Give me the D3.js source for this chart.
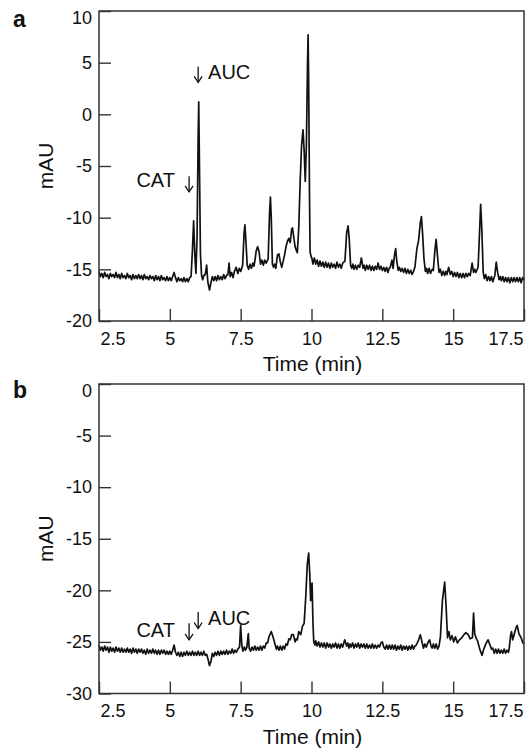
<!DOCTYPE html>
<html>
<head>
<meta charset="utf-8">
<script src="https://cdn.jsdelivr.net/npm/d3@7"></script>
<style>
  html, body { margin: 0; padding: 0; background: #fff; }
  svg { display: block; }
  text { font-family: "Liberation Sans", Arial, Helvetica, sans-serif; fill: #111; }
</style>
</head>
<body>
<svg id="chart" width="526" height="752"></svg>
<script>
// ---- data (time in min, absorbance in mAU) ----
const xTicks = [2.5, 5, 7.5, 10, 12.5, 15, 17.5];
const yTicksA = [-20, -15, -10, -5, 0, 5, 10];
const yTicksB = [-30, -25, -20, -15, -10, -5, 0];
const panelLabels = ["a", "b"];
const xTitle = "Time (min)";
const yTitle = "mAU";

const traceA = [
[2.5,-15.2],[2.55,-15.7],[2.6,-15.4],[2.65,-15.8],[2.7,-15.3],[2.75,-15.7],[2.8,-15.5],[2.85,-15.9],[2.9,-15.4],[2.95,-15.7],
[3.0,-15.5],[3.05,-15.8],[3.1,-15.3],[3.15,-15.8],[3.2,-15.5],[3.25,-15.9],[3.3,-15.4],[3.35,-15.8],[3.4,-15.6],[3.45,-15.9],
[3.5,-15.4],[3.55,-15.8],[3.6,-15.6],[3.65,-16.0],[3.7,-15.5],[3.75,-15.9],[3.8,-15.6],[3.85,-15.9],[3.9,-15.5],[3.95,-15.9],
[4.0,-15.6],[4.05,-16.0],[4.1,-15.5],[4.15,-15.9],[4.2,-15.7],[4.25,-16.0],[4.3,-15.6],[4.35,-15.9],[4.4,-15.7],[4.45,-16.1],
[4.5,-15.6],[4.55,-16.0],[4.6,-15.7],[4.65,-16.1],[4.7,-15.6],[4.75,-16.0],[4.8,-15.8],[4.85,-16.1],[4.9,-15.7],[4.95,-16.1],
[5.0,-15.8],[5.05,-16.1],[5.1,-15.7],[5.15,-15.3],[5.2,-15.8],[5.25,-16.2],[5.3,-15.8],[5.35,-16.1],[5.4,-15.9],[5.45,-16.2],
[5.5,-15.8],[5.55,-16.2],[5.6,-15.9],[5.65,-16.2],[5.7,-15.8],[5.75,-15.7],[5.8,-13.0],[5.84,-10.3],[5.88,-13.5],[5.92,-15.4],
[5.96,-12.0],[6.0,-2.0],[6.02,1.2],[6.05,-6.0],[6.08,-13.5],[6.12,-15.6],[6.16,-16.0],[6.2,-15.6],[6.25,-15.5],[6.3,-14.6],
[6.34,-16.2],[6.4,-17.0],[6.45,-16.3],[6.5,-15.7],[6.55,-16.1],[6.6,-15.7],[6.65,-16.1],[6.7,-15.6],[6.75,-16.0],[6.8,-15.7],
[6.85,-16.0],[6.9,-15.5],[6.95,-15.9],[7.0,-15.6],[7.05,-15.5],[7.09,-14.4],[7.13,-15.7],[7.18,-15.3],[7.23,-15.8],[7.28,-15.2],
[7.34,-14.8],[7.4,-15.4],[7.45,-14.9],[7.5,-15.2],[7.57,-14.6],[7.62,-11.5],[7.65,-10.7],[7.69,-12.5],[7.73,-14.6],[7.78,-15.0],
[7.83,-14.5],[7.88,-14.9],[7.93,-14.4],[7.97,-14.7],[8.0,-14.2],[8.05,-13.2],[8.1,-12.8],[8.15,-13.3],[8.2,-14.5],[8.25,-14.1],
[8.3,-14.6],[8.35,-14.1],[8.4,-14.4],[8.47,-14.0],[8.52,-9.5],[8.55,-8.0],[8.58,-10.0],[8.62,-14.5],[8.66,-14.8],[8.7,-14.5],
[8.74,-14.9],[8.8,-13.6],[8.85,-13.5],[8.9,-14.3],[8.95,-14.8],[9.0,-14.2],[9.05,-13.6],[9.1,-12.8],[9.15,-12.3],[9.2,-12.0],
[9.25,-12.4],[9.3,-11.1],[9.33,-11.0],[9.37,-11.8],[9.42,-12.8],[9.47,-13.2],[9.5,-13.4],[9.55,-11.0],[9.6,-6.5],[9.65,-3.0],
[9.7,-1.5],[9.74,-3.5],[9.78,-6.5],[9.82,-3.0],[9.86,5.0],[9.88,7.7],[9.9,3.0],[9.93,-8.0],[9.95,-13.3],[9.98,-13.7],
[10.02,-14.0],[10.05,-14.5],[10.1,-13.9],[10.15,-14.5],[10.2,-14.1],[10.25,-14.7],[10.3,-14.2],[10.35,-14.7],[10.4,-14.3],[10.45,-14.8],
[10.5,-14.3],[10.55,-14.8],[10.6,-14.4],[10.65,-14.9],[10.7,-14.4],[10.75,-14.8],[10.8,-14.5],[10.85,-14.9],[10.9,-14.3],[10.95,-14.8],
[11.0,-14.5],[11.05,-14.9],[11.1,-14.4],[11.18,-14.2],[11.24,-11.5],[11.29,-10.8],[11.33,-12.0],[11.38,-14.6],[11.42,-14.9],[11.46,-14.5],
[11.5,-15.0],[11.55,-14.6],[11.6,-15.0],[11.65,-14.6],[11.7,-14.8],[11.76,-13.9],[11.82,-14.9],[11.86,-14.6],[11.9,-15.1],[11.95,-14.6],
[12.0,-15.0],[12.05,-14.6],[12.1,-15.1],[12.15,-14.7],[12.2,-15.1],[12.25,-14.7],[12.3,-15.0],[12.35,-14.4],[12.4,-15.0],[12.45,-14.7],
[12.5,-15.1],[12.55,-14.8],[12.6,-15.2],[12.65,-14.8],[12.7,-15.3],[12.74,-14.9],[12.78,-14.8],[12.84,-14.1],[12.88,-14.9],[12.93,-13.6],
[12.97,-13.0],[13.01,-14.2],[13.06,-15.1],[13.1,-14.8],[13.15,-15.2],[13.2,-14.9],[13.25,-15.3],[13.3,-14.9],[13.35,-15.4],[13.4,-15.0],
[13.45,-15.4],[13.5,-15.1],[13.55,-15.5],[13.6,-15.2],[13.65,-14.8],[13.72,-13.0],[13.78,-12.2],[13.84,-10.5],[13.88,-9.9],[13.92,-11.5],
[13.97,-14.0],[14.02,-15.2],[14.06,-14.9],[14.1,-15.4],[14.15,-14.9],[14.2,-15.4],[14.26,-15.0],[14.3,-15.1],[14.36,-13.0],[14.4,-12.1],
[14.44,-13.5],[14.5,-15.3],[14.55,-15.0],[14.6,-15.6],[14.65,-15.2],[14.7,-15.6],[14.74,-15.2],[14.78,-15.5],[14.84,-14.8],[14.9,-15.5],
[14.95,-15.2],[15.0,-15.7],[15.05,-15.3],[15.1,-15.7],[15.15,-15.3],[15.2,-15.8],[15.25,-15.4],[15.3,-15.8],[15.35,-15.4],[15.4,-15.8],
[15.45,-15.4],[15.5,-15.7],[15.55,-15.4],[15.6,-15.6],[15.67,-14.4],[15.72,-15.3],[15.76,-15.0],[15.8,-15.3],[15.88,-14.8],[15.93,-11.5],
[15.97,-8.7],[16.01,-11.0],[16.06,-15.3],[16.1,-15.9],[16.15,-15.5],[16.2,-16.1],[16.25,-15.7],[16.3,-16.1],[16.35,-15.7],[16.4,-16.2],
[16.47,-15.6],[16.52,-14.3],[16.57,-15.3],[16.62,-16.0],[16.66,-15.7],[16.7,-16.1],[16.75,-15.7],[16.8,-16.2],[16.85,-15.8],[16.9,-16.2],
[16.95,-15.8],[17.0,-16.3],[17.05,-15.8],[17.1,-16.2],[17.15,-15.8],[17.2,-16.2],[17.25,-15.8],[17.3,-16.2],[17.35,-15.8],[17.4,-16.3],
[17.45,-15.8],[17.5,-16.0]
];

const traceB = [
[2.5,-25.3],[2.55,-25.8],[2.6,-25.5],[2.65,-25.9],[2.7,-25.4],[2.75,-25.8],[2.8,-25.5],[2.85,-26.0],[2.9,-25.5],[2.95,-25.9],
[3.0,-25.6],[3.05,-26.0],[3.1,-25.5],[3.15,-25.9],[3.2,-25.6],[3.25,-26.0],[3.3,-25.6],[3.35,-26.0],[3.4,-25.7],[3.45,-26.0],
[3.5,-25.6],[3.55,-26.0],[3.6,-25.7],[3.65,-26.1],[3.7,-25.6],[3.75,-26.0],[3.8,-25.7],[3.85,-26.1],[3.9,-25.7],[3.95,-26.0],
[4.0,-25.7],[4.05,-26.1],[4.1,-25.8],[4.15,-26.2],[4.2,-25.7],[4.25,-26.1],[4.3,-25.8],[4.35,-26.1],[4.4,-25.7],[4.45,-26.1],
[4.5,-25.8],[4.55,-26.2],[4.6,-25.8],[4.65,-26.2],[4.7,-25.8],[4.75,-26.1],[4.8,-25.8],[4.85,-26.2],[4.9,-25.9],[4.95,-26.2],
[5.0,-25.9],[5.05,-26.2],[5.1,-25.8],[5.15,-25.3],[5.2,-26.0],[5.25,-26.3],[5.3,-26.0],[5.35,-26.4],[5.4,-26.0],[5.45,-26.4],
[5.5,-26.0],[5.55,-26.3],[5.6,-25.9],[5.65,-26.3],[5.7,-26.0],[5.75,-26.3],[5.8,-25.9],[5.85,-26.3],[5.9,-26.0],[5.95,-26.3],
[6.0,-25.9],[6.05,-26.3],[6.1,-26.0],[6.15,-26.3],[6.2,-25.9],[6.25,-26.3],[6.3,-26.2],[6.36,-26.8],[6.4,-27.3],[6.45,-26.9],
[6.5,-26.1],[6.55,-26.4],[6.6,-26.0],[6.65,-26.3],[6.7,-25.9],[6.75,-26.3],[6.8,-25.9],[6.85,-26.2],[6.9,-25.9],[6.95,-26.2],
[7.0,-25.8],[7.05,-26.2],[7.1,-25.9],[7.15,-26.1],[7.2,-25.7],[7.25,-26.1],[7.3,-25.8],[7.35,-26.0],[7.4,-25.7],[7.46,-25.5],
[7.5,-23.4],[7.54,-25.3],[7.58,-25.9],[7.63,-25.5],[7.67,-25.8],[7.72,-25.5],[7.77,-24.2],[7.8,-25.6],[7.85,-25.9],[7.9,-25.5],
[7.95,-25.8],[8.0,-25.4],[8.05,-25.8],[8.1,-25.5],[8.15,-25.8],[8.2,-25.4],[8.25,-25.8],[8.3,-25.4],[8.35,-25.6],[8.4,-25.1],
[8.45,-25.1],[8.5,-24.5],[8.58,-24.0],[8.65,-24.6],[8.72,-25.3],[8.76,-25.7],[8.8,-25.4],[8.85,-25.8],[8.9,-25.4],[8.95,-25.8],
[9.0,-25.4],[9.05,-25.7],[9.1,-25.2],[9.15,-25.3],[9.2,-24.7],[9.25,-24.8],[9.3,-24.3],[9.36,-24.3],[9.42,-25.0],[9.46,-24.7],
[9.5,-24.8],[9.55,-24.0],[9.62,-24.3],[9.68,-23.5],[9.74,-23.2],[9.8,-20.5],[9.85,-17.5],[9.9,-16.4],[9.94,-18.5],[9.97,-21.0],
[10.0,-19.5],[10.02,-19.3],[10.05,-23.0],[10.08,-25.0],[10.12,-25.3],[10.15,-24.9],[10.2,-25.4],[10.25,-25.0],[10.3,-25.5],[10.35,-25.1],
[10.4,-25.5],[10.45,-25.1],[10.5,-25.6],[10.55,-25.1],[10.6,-25.5],[10.65,-25.2],[10.7,-25.6],[10.75,-25.2],[10.8,-25.5],[10.85,-25.1],
[10.9,-25.6],[10.95,-25.2],[11.0,-25.6],[11.05,-25.2],[11.1,-25.5],[11.17,-24.8],[11.24,-25.4],[11.28,-25.1],[11.32,-25.6],[11.36,-25.2],
[11.4,-25.5],[11.45,-25.1],[11.5,-25.6],[11.55,-25.2],[11.6,-25.5],[11.65,-25.1],[11.7,-25.6],[11.75,-25.2],[11.8,-25.5],[11.85,-25.2],
[11.9,-25.6],[11.95,-25.2],[12.0,-25.6],[12.05,-25.3],[12.1,-25.6],[12.15,-25.2],[12.2,-25.6],[12.25,-25.3],[12.3,-25.6],[12.35,-25.3],
[12.4,-25.5],[12.45,-25.1],[12.5,-25.0],[12.55,-25.5],[12.6,-25.7],[12.65,-25.3],[12.7,-25.7],[12.75,-25.3],[12.8,-25.7],[12.85,-25.3],
[12.9,-25.7],[12.95,-25.3],[13.0,-25.8],[13.05,-25.4],[13.1,-25.7],[13.15,-25.3],[13.2,-25.8],[13.25,-25.4],[13.3,-25.7],[13.35,-25.4],
[13.4,-25.8],[13.45,-25.4],[13.5,-25.7],[13.55,-25.3],[13.6,-25.7],[13.65,-25.4],[13.7,-25.3],[13.78,-24.8],[13.84,-24.3],[13.9,-25.0],
[13.95,-25.6],[14.0,-25.2],[14.05,-25.5],[14.12,-25.0],[14.17,-24.8],[14.22,-25.4],[14.26,-25.6],[14.3,-25.2],[14.35,-25.6],[14.4,-25.2],
[14.45,-25.7],[14.5,-25.4],[14.55,-24.5],[14.62,-21.0],[14.7,-19.2],[14.75,-21.5],[14.8,-24.6],[14.85,-24.0],[14.9,-24.8],[14.96,-24.4],
[15.02,-25.0],[15.08,-24.5],[15.15,-25.1],[15.22,-24.8],[15.3,-24.6],[15.38,-24.3],[15.45,-24.1],[15.53,-24.3],[15.6,-24.7],[15.68,-24.6],
[15.72,-22.2],[15.76,-24.2],[15.82,-24.7],[15.86,-24.9],[15.9,-25.3],[15.95,-25.8],[16.02,-26.3],[16.08,-25.7],[16.15,-25.2],[16.23,-24.8],
[16.3,-25.3],[16.35,-25.7],[16.4,-25.6],[16.45,-26.1],[16.5,-25.7],[16.55,-26.1],[16.6,-25.7],[16.65,-26.1],[16.7,-25.8],[16.75,-26.1],
[16.8,-25.7],[16.85,-26.1],[16.9,-25.8],[16.95,-26.0],[16.98,-25.6],[17.03,-24.3],[17.06,-24.0],[17.1,-24.8],[17.16,-24.2],[17.22,-23.6],
[17.26,-23.4],[17.32,-24.2],[17.4,-24.6],[17.46,-25.1],[17.5,-25.2]
];

// annotation labels and arrows, in data coordinates (min, mAU)
const labelsA = [
  { text: "AUC", t: 6.35, v: 3.45, anchor: "start" },
  { text: "CAT", t: 5.18, v: -7.05, anchor: "end" }
];
const arrowsA = [ { t: 6.0, vTop: 4.6, vTip: 3.1 }, { t: 5.68, vTop: -6.0, vTip: -7.5 } ];
const labelsB = [
  { text: "AUC", t: 6.35, v: -23.35, anchor: "start" },
  { text: "CAT", t: 5.18, v: -24.5, anchor: "end" }
];
const arrowsB = [ { t: 6.0, vTop: -22.1, vTip: -23.7 }, { t: 5.68, vTop: -23.2, vTip: -24.8 } ];

// ---- layout ----
const svg = d3.select("#chart");
const left = 99, right = 524;

const panels = [
  { data: traceA, yDomain: [-20, 10], yTicks: yTicksA, top: 11, bottom: 321, labels: labelsA, arrows: arrowsA },
  { data: traceB, yDomain: [-30, 0], yTicks: yTicksB, top: 384, bottom: 693.5, labels: labelsB, arrows: arrowsB }
];

const x = d3.scaleLinear().domain([2.5, 17.5]).range([left, right]);
const fmt = d => String(d);
const font = "'Liberation Sans', Arial, sans-serif";

panels.forEach((p, i) => {
  const y = d3.scaleLinear().domain(p.yDomain).range([p.bottom, p.top]);
  const g = svg.append("g");

  // inward ticks
  g.append("g")
    .attr("transform", `translate(${left},0)`)
    .call(d3.axisRight(y).tickValues(p.yTicks).tickSize(12).tickFormat(""))
    .call(s => s.select(".domain").remove())
    .call(s => s.selectAll("line").attr("stroke", "#333").attr("stroke-width", 1.4));
  g.append("g")
    .attr("transform", `translate(0,${p.bottom})`)
    .call(d3.axisTop(x).tickValues(xTicks).tickSize(12).tickFormat(""))
    .call(s => s.select(".domain").remove())
    .call(s => s.selectAll("line").attr("stroke", "#333").attr("stroke-width", 1.4));

  // y labels
  const yl = g.append("g")
    .attr("transform", `translate(${left},0)`)
    .call(d3.axisLeft(y).tickValues(p.yTicks).tickSize(0).tickPadding(7).tickFormat(fmt));
  yl.select(".domain").remove();
  yl.selectAll("text").attr("font-size", 18).attr("fill", "#111").attr("font-family", font);
  yl.selectAll(".tick").filter(d => d === p.yDomain[1]).select("text").attr("dy", "0.72em");

  // x labels
  const xl = g.append("g")
    .attr("transform", `translate(0,${p.bottom})`)
    .call(d3.axisBottom(x).tickValues(xTicks).tickSize(0).tickPadding(11).tickFormat(fmt));
  xl.select(".domain").remove();
  xl.selectAll("text").attr("font-size", 18).attr("fill", "#111").attr("font-family", font);
  xl.selectAll(".tick").filter(d => d === 2.5).select("text").attr("text-anchor", "start").attr("x", 1);
  xl.selectAll(".tick").filter(d => d === 17.5).select("text").attr("text-anchor", "end").attr("x", -1);

  // trace
  const line = d3.line().x(d => x(d[0])).y(d => y(d[1]));
  g.append("path").datum(p.data)
    .attr("d", line)
    .attr("fill", "none")
    .attr("stroke", "#111")
    .attr("stroke-width", 1.7)
    .attr("stroke-linejoin", "round");

  // frame
  g.append("rect")
    .attr("x", left).attr("y", p.top)
    .attr("width", right - left).attr("height", p.bottom - p.top)
    .attr("fill", "none").attr("stroke", "#333").attr("stroke-width", 1.5);

  // titles
  g.append("text")
    .attr("x", (left + right) / 2 + 1).attr("y", p.bottom + 50)
    .attr("text-anchor", "middle").attr("font-size", 21)
    .text(xTitle);
  g.append("text")
    .attr("transform", `translate(53,${(p.top + p.bottom) / 2}) rotate(-90)`)
    .attr("text-anchor", "middle").attr("font-size", 21)
    .text(yTitle);

  // panel label
  g.append("text")
    .attr("x", 13).attr("y", p.top + (i === 0 ? 16 : 14))
    .attr("font-size", 23).attr("font-weight", "bold")
    .text(panelLabels[i]);

  // annotations
  g.selectAll("text.ann").data(p.labels).join("text")
    .attr("class", "ann")
    .attr("x", d => x(d.t)).attr("y", d => y(d.v))
    .attr("text-anchor", d => d.anchor)
    .attr("font-size", 20)
    .text(d => d.text);
  const ag = g.selectAll("g.arrow").data(p.arrows).join("g").attr("class", "arrow")
    .attr("stroke", "#111").attr("stroke-width", 1.3).attr("fill", "none");
  ag.append("line")
    .attr("x1", d => x(d.t)).attr("x2", d => x(d.t))
    .attr("y1", d => y(d.vTop)).attr("y2", d => y(d.vTip));
  ag.append("path")
    .attr("d", d => {
      const cx = x(d.t), ty = y(d.vTip);
      return `M${cx - 4},${ty - 6}L${cx},${ty}L${cx + 4},${ty - 6}`;
    });
});
</script>
</body>
</html>
